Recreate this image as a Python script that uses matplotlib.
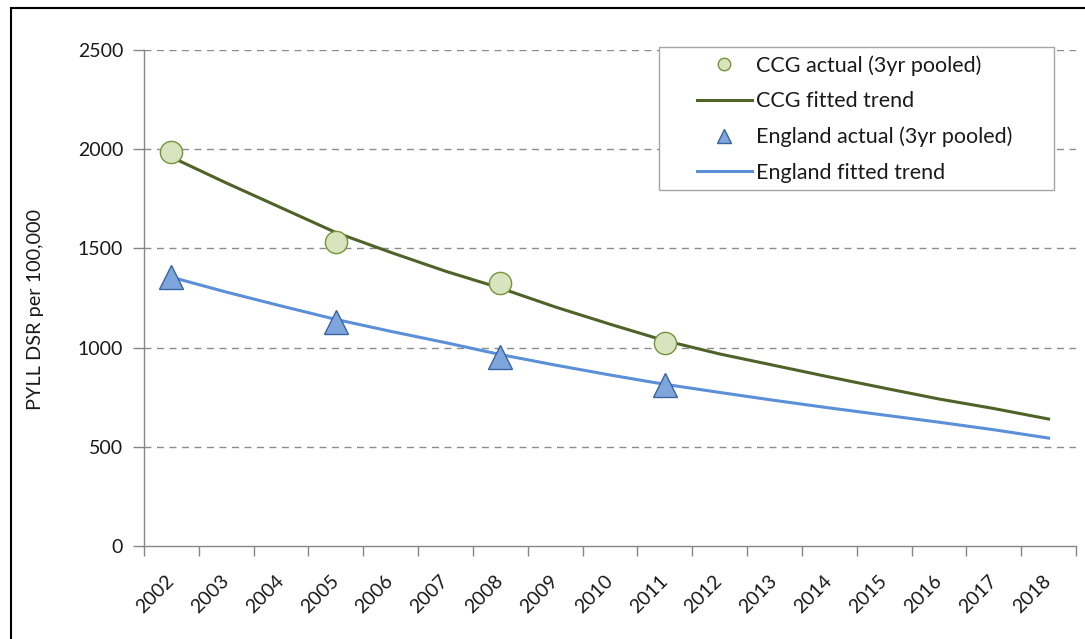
import matplotlib
matplotlib.use("Agg")
import matplotlib.pyplot as plt
from matplotlib.lines import Line2D
from matplotlib.patches import Rectangle

plt.rcParams['font.family'] = ['Lato', 'DejaVu Sans']

years = [str(y) for y in range(2002, 2019)]

# Pooled three-year actuals (plotted at the first year of each pool)
actual_years = ["2002", "2005", "2008", "2011"]
ccg_actual = [1986, 1532, 1328, 1022]
england_actual = [1355, 1130, 955, 812]

# Fitted trends for every year
ccg_trend = [1960, 1830, 1705, 1580, 1480, 1385, 1300, 1205, 1118, 1035,
             968, 910, 852, 796, 741, 693, 640]
england_trend = [1355, 1280, 1210, 1142, 1082, 1025, 965, 912, 862, 815,
                 774, 734, 696, 660, 624, 586, 544]

y_ticks = [0, 500, 1000, 1500, 2000, 2500]
y_label = "PYLL DSR per 100,000"
legend_labels = ["CCG actual (3yr pooled)", "CCG fitted trend",
                 "England actual (3yr pooled)", "England fitted trend"]

W, H = 1085, 639
fig = plt.figure(figsize=(W / 100, H / 100), dpi=100)

# Chart frame (left and top edges visible)
fig.patches.append(Rectangle((11 / W, -0.1), 1.2, (H - 8) / H + 0.1,
                             transform=fig.transFigure, fill=False,
                             edgecolor="black", linewidth=1.5))

AX_L, AX_R, AX_T, AX_B = 144, 1076, 50, 546
ax = fig.add_axes([AX_L / W, (H - AX_B) / H, (AX_R - AX_L) / W,
                   (AX_B - AX_T) / H])


def ax_frac(px, py):
    return (px - AX_L) / (AX_R - AX_L), (AX_B - py) / (AX_B - AX_T)


x = list(range(len(years)))
idx = {y: i for i, y in enumerate(years)}
ax_x = [idx[y] for y in actual_years]

ccg_line_c = "#4f6228"
eng_line_c = "#5b8fd8"

ax.plot(x, ccg_trend, color=ccg_line_c, lw=2.2, zorder=3)
ax.plot(x, england_trend, color=eng_line_c, lw=2.2, zorder=3)
ax.plot(ax_x, ccg_actual, linestyle="none", marker="o", markersize=16,
        markerfacecolor="#d7e4bd", markeredgecolor="#77933c",
        markeredgewidth=1.0, zorder=4)
ax.plot(ax_x, england_actual, linestyle="none", marker="^", markersize=17,
        markerfacecolor="#7ea6dc", markeredgecolor="#3a64a0",
        markeredgewidth=1.0, zorder=4)

ax.set_xlim(-0.5, len(years) - 0.5)
ax.set_ylim(0, 2500)

# Major ticks sit between categories; labels sit at category centres
ax.set_xticks([i - 0.5 for i in range(len(years) + 1)])
ax.set_xticklabels([])
ax.set_xticks(x, minor=True)
ax.set_xticklabels(years, minor=True, rotation=45, ha="right", va="center",
                   rotation_mode="anchor", fontsize=14, color="#1a1a1a")
ax.tick_params(axis="x", which="major", length=7, width=1, color="#868686",
               direction="out")
ax.tick_params(axis="x", which="minor", length=0, pad=23)

ax.set_yticks(y_ticks)
ax.set_yticklabels([str(v) for v in y_ticks], fontsize=14, color="#1a1a1a")
ax.tick_params(axis="y", length=8, width=1, color="#868686", pad=7)

for v in y_ticks[1:]:
    ax.axhline(v, color="#8c8c8c", lw=1, linestyle=(0, (5, 4)), zorder=1)

for s in ["top", "right"]:
    ax.spines[s].set_visible(False)
for s in ["left", "bottom"]:
    ax.spines[s].set_color("#868686")
    ax.spines[s].set_linewidth(1)

fig.text(36 / W, 1 - 310 / H, y_label, rotation=90, ha="center",
         va="center", fontsize=14.3, color="#1a1a1a")

# Legend box
bx0, by0 = ax_frac(659, 190)
bx1, by1 = ax_frac(1054, 47)
ax.add_patch(Rectangle((bx0, by0), bx1 - bx0, by1 - by0,
                       transform=ax.transAxes, facecolor="white",
                       edgecolor="#a6a6a6", linewidth=1, zorder=5,
                       clip_on=False))

handles = [
    Line2D([], [], linestyle="none", marker="o", markersize=9,
           markerfacecolor="#d7e4bd", markeredgecolor="#77933c"),
    Line2D([], [], color=ccg_line_c, lw=2.2),
    Line2D([], [], linestyle="none", marker="^", markersize=10,
           markerfacecolor="#7ea6dc", markeredgecolor="#3a64a0"),
    Line2D([], [], color=eng_line_c, lw=2.2),
]
leg = ax.legend(handles, legend_labels, loc="upper left",
                bbox_to_anchor=ax_frac(697, 55),
                fontsize=15.5, frameon=False, handlelength=2.55,
                handletextpad=0.2, labelspacing=0.72, borderpad=0,
                borderaxespad=0)
leg.set_zorder(6)
for t in leg.get_texts():
    t.set_color("#1a1a1a")

fig.savefig("out.png", dpi=100)
